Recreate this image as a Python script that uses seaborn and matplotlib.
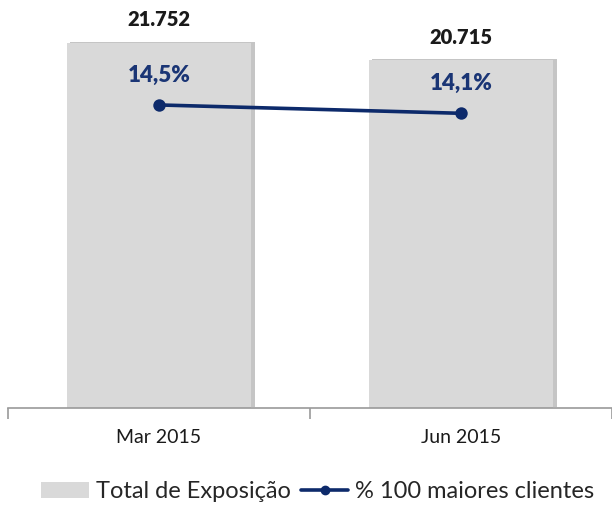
import matplotlib
matplotlib.use("Agg")
import matplotlib.pyplot as plt
import matplotlib.patheffects as pe
from matplotlib.lines import Line2D
from matplotlib.patches import Patch
import seaborn as sns
import pandas as pd
import numpy as np

categories = ["Mar 2015", "Jun 2015"]
total_exposicao = [21752, 20715]
pct_100_maiores = [14.5, 14.1]
bar_labels = ["21.752", "20.715"]
pct_labels = ["14,5%", "14,1%"]

sns.set_theme(style="white")
plt.rcParams["font.family"] = ["Lato", "DejaVu Sans"]

df = pd.DataFrame({"cat": categories, "total": total_exposicao, "pct": pct_100_maiores})

fig = plt.figure(figsize=(6.12, 5.08), dpi=100)
ax = fig.add_axes([8/612, 100/508, 604/612, 408/508])

bar_color = "#d9d9d9"
navy = "#0d2a6b"

sns.barplot(data=df, x="cat", y="total", color=bar_color, width=0.61, ax=ax,
            saturation=1, edgecolor="none")
for p in ax.patches:
    p.set_path_effects([pe.SimplePatchShadow(offset=(2.5, 1), shadow_rgbFace="#808080", alpha=0.45),
                        pe.Normal()])

ax.set_ylim(0, 24315)
ax.set_xlim(-0.5, 1.5)
for i, (v, lab) in enumerate(zip(total_exposicao, bar_labels)):
    ax.annotate(lab, (i, v), xytext=(0, 10), textcoords="offset points",
                ha="center", va="bottom", fontsize=14.5, fontweight="heavy", color="#1a1a1a")

ax2 = ax.twinx()
sns.pointplot(data=df, x="cat", y="pct", color=navy, ax=ax2, markers="o",
              markersize=7, linewidth=2.6)
ax2.set_ylim(0, 408/20.9)
ax2.set_xlim(-0.5, 1.5)
for i, (v, lab) in enumerate(zip(pct_100_maiores, pct_labels)):
    ax2.annotate(lab, (i, v), xytext=(0, 14), textcoords="offset points",
                 ha="center", va="bottom", fontsize=16, fontweight="heavy", color="#1a3575")

for a in (ax, ax2):
    for s in ("top", "left", "right"):
        a.spines[s].set_visible(False)
    a.set_ylabel("")
    a.set_yticks([])
ax.set_xlabel("")
ax2.set_xlabel("")
ax.spines["bottom"].set_color("#9a9a9a")
ax.spines["bottom"].set_linewidth(1.2)
ax2.spines["bottom"].set_visible(False)

ax.set_xticks([-0.5, 0.5, 1.5])
ax.set_xticklabels(["", "", ""])
ax.tick_params(axis="x", which="major", length=8, width=1.2, color="#9a9a9a", direction="out", bottom=True)
ax.set_xticks([0, 1], minor=True)
ax.set_xticklabels(categories, minor=True, fontsize=14, color="#1a1a1a")
ax.tick_params(axis="x", which="minor", length=0, pad=15, bottom=True)
ax2.tick_params(axis="x", which="both", length=0, labelbottom=False, bottom=False)
ax.set_xlim(-0.5, 1.5)

handles = [Patch(facecolor=bar_color, edgecolor="none"),
           Line2D([0], [0], color=navy, lw=2.6, marker="o", markersize=6)]
fig.legend(handles, ["Total de Exposição", "% 100 maiores clientes"], loc="center",
           bbox_to_anchor=(318/612, 1 - 492/508), ncol=2, frameon=False, fontsize=17,
           handlelength=2.0, handletextpad=0.3, columnspacing=0.45, handleheight=0.7)

fig.savefig("out.png", dpi=100)
